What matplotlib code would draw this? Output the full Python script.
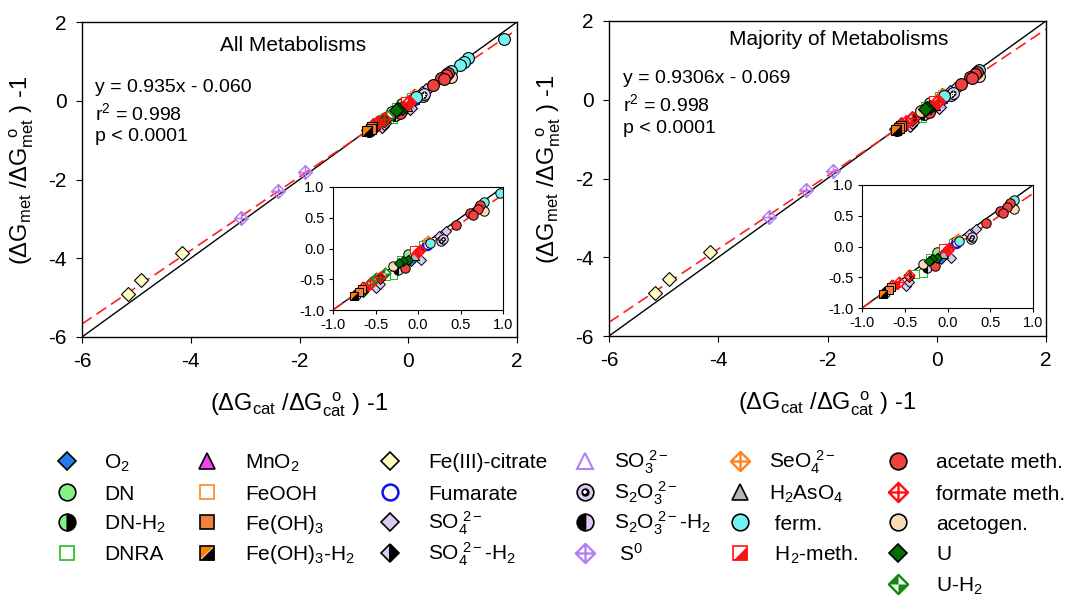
import numpy as np
import matplotlib
matplotlib.use('Agg')
import matplotlib.pyplot as plt
from matplotlib.path import Path

plt.rcParams['font.family'] = ['Liberation Sans', 'DejaVu Sans']
plt.rcParams['mathtext.fontset'] = 'custom'
plt.rcParams['mathtext.rm'] = 'Liberation Sans'
plt.rcParams['mathtext.it'] = 'Liberation Sans:italic'
plt.rcParams['mathtext.default'] = 'regular'
plt.rcParams['axes.unicode_minus'] = False

# (dG_cat/dG_cat0 - 1, dG_met/dG_met0 - 1) per catabolism
o2_x = [-0.08, 0.10]
o2_y = [-0.21, 0.11]
dn_x = [-0.12, 0.08]
dn_y = [-0.09, 0.07]
dnh2_x = [-0.26]
dnh2_y = [-0.35]
dnra_x = [0.06, -0.29, -0.38, -0.20]
dnra_y = [0.06, -0.43, -0.45, -0.19]
mno2_x = [0.08]
mno2_y = [0.08]
feooh_x = [0.12]
feooh_y = [0.11]
feoh3_x = [-0.66, -0.69]
feoh3_y = [-0.66, -0.71]
feoh3h2_x = [-0.75]
feoh3h2_y = [-0.77]
fecit_x = [-5.16, -4.91, -4.16]
fecit_y = [-4.91, -4.56, -3.86]
fum_x = [0.10]
fum_y = [0.05]
so4_x = [0.33, 0.25, 0.04, -0.05, -0.49, -0.45]
so4_y = [0.28, 0.20, -0.18, -0.11, -0.65, -0.57]
so4h2_x = [-0.74, -0.45]
so4h2_y = [-0.74, -0.50]
so3_x = [-0.02]
so3_y = [-0.04]
s2o3_x = [0.27, 0.29]
s2o3_y = [0.13, 0.16]
s2o3h2_x = [-0.73, -0.24]
s2o3h2_y = [-0.76, -0.35]
s0_x = [-3.08, -2.39, -1.90]
s0_y = [-2.98, -2.28, -1.80]
seo4_x = [0.12]
seo4_y = [0.13]
h2aso4_x = [-0.05]
h2aso4_y = [-0.10]
ferm_x = [1.76, 1.10, 1.02, 0.96, 0.78, 0.72, 0.14, -0.17]
ferm_y = [1.57, 1.09, 0.98, 0.90, 0.76, 0.68, 0.09, -0.22]
h2meth_x = [-0.62, -0.05]
h2meth_y = [-0.63, -0.03]
acmeth_x = [0.73, 0.70, 0.61, 0.65, 0.45, -0.15]
acmeth_y = [0.71, 0.65, 0.58, 0.55, 0.39, -0.32]
fometh_x = [0.02, 0.00, -0.65, -0.57, -0.45]
fometh_y = [-0.02, -0.05, -0.62, -0.57, -0.46]
acetogen_x = [0.78, -0.29]
acetogen_y = [0.61, -0.29]
u_x = [-0.12, -0.18, -0.22, -0.45, -0.65]
u_y = [-0.18, -0.21, -0.24, -0.48, -0.70]
uh2_x = [-0.39, -0.49, -0.55]
uh2_y = [-0.40, -0.48, -0.55]

# points left out of the "majority" fit
majority_drop = {'ferm': [0, 1, 2, 3], 'U': [3, 4], 'U-H2': [0, 1, 2]}

# regression results
fit_all = (0.935, -0.060)
fit_majority = (0.9306, -0.069)

# custom marker shapes
M, L, C = Path.MOVETO, Path.LINETO, Path.CLOSEPOLY
TRI_UL = Path([(-1, -1), (-1, 1), (1, 1), (-1, -1)], [M, L, L, C])
TRI_LR = Path([(-1, -1), (1, 1), (1, -1), (-1, -1)], [M, L, L, C])
XDIAMOND = Path([(0, 1), (1, 0), (0, -1), (-1, 0), (0, 1), (-1, 0), (1, 0), (0, -1), (0, 1)],
                [M, L, L, L, C, M, L, M, L])
BOWTIE = Path([(0, 0), (-1, 0), (0, 1), (0, 0), (0, 0), (1, 0), (0, -1), (0, 0)],
              [M, L, L, C, M, L, L, C])
DIAM = Path([(0, 1), (1, 0), (0, -1), (-1, 0), (0, 1)], [M, L, L, L, C])

LAV = '#dccaf5'
PURP = '#b77ef2'
ORNG = '#ff8420'

# each style is a stack of marker layers: (marker, face, edge, size factor, extra)
styles = {
    'O2': [('D', '#1f7fe8', 'k', 0.8, {})],
    'DN': [('o', '#86f086', 'k', 1.0, {})],
    'DN-H2': [('o', '#86f086', 'k', 1.0, dict(fillstyle='left', markerfacecoloralt='k'))],
    'DNRA': [('s', 'white', '#22bb22', 0.85, {})],
    'MnO2': [('^', '#ee44ee', 'k', 1.0, {})],
    'FeOOH': [('s', 'white', ORNG, 0.85, {})],
    'Fe(OH)3': [('s', '#f2803e', 'k', 0.85, {})],
    'Fe(OH)3-H2': [(TRI_UL, '#ff8000', 'none', 0.85, {}), (TRI_LR, 'k', 'none', 0.85, {}),
                   ('s', 'none', 'k', 0.85, {})],
    'Fe(III)-citrate': [('D', '#ffffc2', 'k', 0.8, {})],
    'Fumarate': [('o', 'white', '#1010ee', 0.95, dict(markeredgewidth=1.8))],
    'SO4': [('D', LAV, 'k', 0.8, {})],
    'SO4-H2': [('D', LAV, 'k', 0.8, dict(fillstyle='left', markerfacecoloralt='k'))],
    'SO3': [('^', 'white', PURP, 1.0, dict(markeredgewidth=1.5))],
    'S2O3': [('o', LAV, 'k', 1.0, {}), ('o', 'k', 'k', 0.4, {}), ('+', 'white', 'white', 0.3, {})],
    'S2O3-H2': [('o', 'k', 'k', 1.0, dict(fillstyle='left', markerfacecoloralt=LAV))],
    'S0': [(XDIAMOND, 'none', PURP, 1.15, {})],
    'SeO4': [(XDIAMOND, 'none', ORNG, 1.15, {})],
    'H2AsO4': [('^', '#b4b4b4', 'k', 1.0, {})],
    'ferm': [('o', '#74f2f2', 'k', 1.0, {})],
    'H2-meth': [(TRI_UL, 'white', 'none', 0.85, {}), (TRI_LR, '#ff1010', 'none', 0.85, {}),
                ('s', 'none', '#ff1010', 0.85, {})],
    'acetate meth': [('o', '#f04040', 'k', 1.0, {})],
    'formate meth': [(XDIAMOND, 'none', '#ff1010', 1.15, {})],
    'acetogen': [('o', '#fadbb8', 'k', 1.0, {})],
    'U': [('D', '#007000', 'k', 0.8, {})],
    'U-H2': [(DIAM, 'white', 'none', 1.15, {}), (BOWTIE, '#118811', 'none', 1.15, {}),
             (DIAM, 'none', '#118811', 1.15, {})],
}

series = [
    ('O2', o2_x, o2_y), ('DN', dn_x, dn_y), ('DN-H2', dnh2_x, dnh2_y),
    ('DNRA', dnra_x, dnra_y), ('MnO2', mno2_x, mno2_y), ('FeOOH', feooh_x, feooh_y),
    ('Fe(III)-citrate', fecit_x, fecit_y), ('Fumarate', fum_x, fum_y),
    ('SO4', so4_x, so4_y), ('SO4-H2', so4h2_x, so4h2_y), ('SO3', so3_x, so3_y),
    ('S2O3', s2o3_x, s2o3_y), ('S2O3-H2', s2o3h2_x, s2o3h2_y), ('S0', s0_x, s0_y),
    ('SeO4', seo4_x, seo4_y), ('H2AsO4', h2aso4_x, h2aso4_y), ('ferm', ferm_x, ferm_y),
    ('H2-meth', h2meth_x, h2meth_y), ('acetogen', acetogen_x, acetogen_y),
    ('acetate meth', acmeth_x, acmeth_y), ('U-H2', uh2_x, uh2_y), ('U', u_x, u_y),
    ('formate meth', fometh_x, fometh_y), ('Fe(OH)3', feoh3_x, feoh3_y),
    ('Fe(OH)3-H2', feoh3h2_x, feoh3h2_y),
]

legend_cols = [
    [('O2', 'O$_2$'), ('DN', 'DN'), ('DN-H2', 'DN-H$_2$'), ('DNRA', 'DNRA')],
    [('MnO2', 'MnO$_2$'), ('FeOOH', 'FeOOH'), ('Fe(OH)3', 'Fe(OH)$_3$'),
     ('Fe(OH)3-H2', 'Fe(OH)$_3$-H$_2$')],
    [('Fe(III)-citrate', 'Fe(III)-citrate'), ('Fumarate', 'Fumarate'),
     ('SO4', 'SO$_4^{\\ 2-}$'), ('SO4-H2', 'SO$_4^{\\ 2-}$-H$_2$')],
    [('SO3', 'SO$_3^{\\ 2-}$'), ('S2O3', 'S$_2$O$_3^{\\ 2-}$'),
     ('S2O3-H2', 'S$_2$O$_3^{\\ 2-}$-H$_2$'), ('S0', ' S$^0$')],
    [('SeO4', 'SeO$_4^{\\ 2-}$'), ('H2AsO4', 'H$_2$AsO$_4$'), ('ferm', ' ferm.'),
     ('H2-meth', ' H$_2$-meth.')],
    [('acetate meth', 'acetate meth.'), ('formate meth', 'formate meth.'),
     ('acetogen', 'acetogen.'), ('U', 'U'), ('U-H2', 'U-H$_2$')],
]


def draw_marks(ax, key, x, y, ms, mew=0.8, clip=True):
    for marker, face, edge, k, extra in styles[key]:
        kw = dict(linestyle='none', marker=marker, markersize=ms * k,
                  markerfacecolor=face, markeredgecolor=edge, markeredgewidth=mew)
        if marker is XDIAMOND or marker is DIAM:
            kw['markeredgewidth'] = mew * 1.4
        kw.update(extra)
        ax.plot(x, y, clip_on=clip, **kw)


def panel(rect, inset_rect, fit, drop, title, title_xy, eq_text, eq_xy):
    ax = fig.add_axes(rect)
    ax.set_xlim(-6, 2)
    ax.set_ylim(-6, 2)
    ax.set_xticks([-6, -4, -2, 0, 2])
    ax.set_yticks([-6, -4, -2, 0, 2])
    ax.tick_params(direction='out', length=4, labelsize=15, pad=7,
                   top=False, right=False)
    for s in ax.spines.values():
        s.set_linewidth(1.0)

    ins = fig.add_axes(inset_rect)
    ins.set_xlim(-1, 1)
    ins.set_ylim(-1, 1)
    ins.set_xticks([-1, -0.5, 0, 0.5, 1])
    ins.set_yticks([-1, -0.5, 0, 0.5, 1])
    ins.xaxis.set_major_formatter('{x:.1f}')
    ins.yaxis.set_major_formatter('{x:.1f}')
    ins.tick_params(direction='out', length=3, labelsize=10.5, pad=3,
                    top=False, right=False)

    slope, icpt = fit
    for a, lo, hi in ((ax, -6, 2), (ins, -1, 1)):
        xs = np.array([lo, hi])
        a.plot(xs, xs, color='black', lw=1.0, zorder=1)
        a.plot(xs, slope * xs + icpt, color='#ff2020', lw=1.2,
               dashes=(7, 3.5), zorder=1)

    for key, x, y in series:
        keep = [i for i in range(len(x)) if i not in drop.get(key, [])]
        xs = [x[i] for i in keep]
        ys = [y[i] for i in keep]
        if not xs:
            continue
        draw_marks(ax, key, xs, ys, 8.5)
        draw_marks(ins, key, xs, ys, 6.8, mew=0.7)

    ax.text(title_xy[0], title_xy[1], title, transform=ax.transAxes,
            ha='center', va='center', fontsize=15)
    ax.text(eq_xy[0], eq_xy[1], eq_text, transform=ax.transAxes,
            ha='left', va='top', fontsize=14, linespacing=1.35)
    ax.set_xlabel(r'($\Delta$G$_{cat}$ /$\Delta$G$_{cat}^{\ \ o}$ ) -1', fontsize=17)
    ax.set_ylabel(r'($\Delta$G$_{met}$ /$\Delta$G$_{met}^{\ \ o}$ ) -1', fontsize=17)
    ax.xaxis.set_label_coords(0.5, -0.17)
    ax.yaxis.set_label_coords(-0.105, 0.53)
    return ax


W, H = 1074, 596
fig = plt.figure(figsize=(W / 100, H / 100), dpi=100)

panel([82 / W, 1 - 337 / H, 435 / W, 315 / H],
      [333 / W, 1 - 310 / H, 170 / W, 123 / H],
      fit_all, {}, 'All Metabolisms', (0.485, 0.925),
      'y = 0.935x - 0.060\nr$^2$ = 0.998\np < 0.0001', (0.03, 0.82))
panel([609 / W, 1 - 336 / H, 437 / W, 315 / H],
      [862 / W, 1 - 308 / H, 171 / W, 123 / H],
      fit_majority, majority_drop, 'Majority of Metabolisms', (0.525, 0.94),
      'y = 0.9306x - 0.069\nr$^2$ = 0.998\np < 0.0001', (0.033, 0.845))

# legend block drawn in pixel coordinates
lg = fig.add_axes([0, 0, 1, 150 / H])
lg.set_xlim(0, W)
lg.set_ylim(H, H - 150)
lg.axis('off')
marker_x = [67, 207, 390, 585, 740, 898]
text_x = [104, 245, 428, 614, 769, 936]
row_y = [461, 492, 522, 553, 584]
for c, col in enumerate(legend_cols):
    for r, (key, label) in enumerate(col):
        draw_marks(lg, key, [marker_x[c]], [row_y[r]], 12, mew=1.2, clip=False)
        lg.text(text_x[c], row_y[r] + 7.5, label, fontsize=15,
                ha='left', va='baseline')

fig.savefig('out.png', dpi=100)
